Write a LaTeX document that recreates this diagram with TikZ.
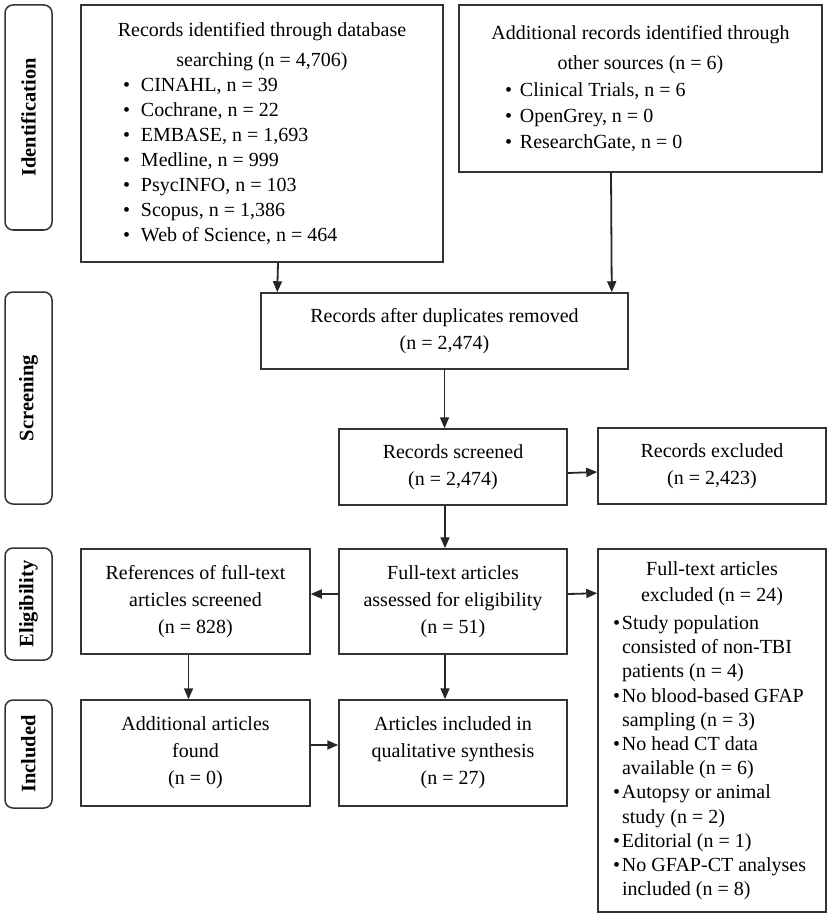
\documentclass[tikz,border=0pt]{standalone}
\usepackage{fontspec}
\setmainfont{Liberation Serif}
\usetikzlibrary{arrows.meta,calc,positioning}

\newlength{\bulw}
\newcommand{\itm}[1]{\par\hangindent=\bulw\hangafter=1\noindent\makebox[\bulw][l]{\textbullet}#1}

\begin{document}
\begin{tikzpicture}[
    x=1pt, y=-1pt,
    font=\fontsize{20}{27}\selectfont,
    box/.style={draw=black!80, line width=1.5pt, inner sep=0pt, align=center},
    listbox/.style={draw=black!80, line width=1.5pt, inner sep=0pt},
    stage/.style={draw=black!80, line width=1.5pt, rounded corners=8pt, inner sep=0pt, rotate=90,
      minimum height=47pt, font=\fontsize{20.5}{24}\selectfont\bfseries},
    arr/.style={-{Triangle[length=11pt,width=9pt]}, line width=1.8pt, draw=black!85, fill=black!85},
  ]
    \useasboundingbox (0,0) rectangle (827,917);

    % Stage labels
    \node[stage, minimum width=225pt] (ident) at (28.5,117.5) {Identification};
    \node[stage, minimum width=212pt] (screen) at (28.5,398) {Screening};
    \node[stage, minimum width=112pt] (elig) at (28.5,604) {Eligibility};
    \node[stage, minimum width=108pt] (inclst) at (28.5,754) {Included};

    % Identification
    \node[listbox, minimum width=362pt, minimum height=257pt] (dbrec) at (262,133.5) {%
      \begin{minipage}{362pt}\fontsize{20}{25}\selectfont\setlength{\bulw}{18pt}
      \centering Records identified through database\\[5pt]searching (n = 4,706)\par
      \raggedright\leftskip=42pt
      \itm{CINAHL, n = 39}
      \itm{Cochrane, n = 22}
      \itm{EMBASE, n = 1,693}
      \itm{Medline, n = 999}
      \itm{PsycINFO, n = 103}
      \itm{Scopus, n = 1,386}
      \itm{Web of Science, n = 464}
      \end{minipage}};
    \node[listbox, minimum width=363pt, minimum height=167pt] (other) at (640.5,88.5) {%
      \begin{minipage}{363pt}\fontsize{20}{26}\selectfont\setlength{\bulw}{15pt}
      \centering Additional records identified through\\[4pt]other sources (n = 6)\par
      \raggedright\leftskip=46pt
      \itm{Clinical Trials, n = 6}
      \itm{OpenGrey, n = 0}
      \itm{ResearchGate, n = 0}
      \end{minipage}};

    % Screening
    \node[box, minimum width=367pt, minimum height=76pt] (dedup) at (444.5,331) {Records after duplicates removed\\(n = 2,474)};
    \node[box, minimum width=228pt, minimum height=76pt] (screened) at (453,467) {Records screened\\(n = 2,474)};
    \node[box, minimum width=228pt, minimum height=76pt] (excl) at (712,466) {Records excluded\\(n = 2,423)};

    % Eligibility
    \node[box, minimum width=229pt, minimum height=105pt] (refs) at (195.5,601.5) {References of full-text\\articles screened\\(n = 828)};
    \node[box, minimum width=228pt, minimum height=105pt] (fulltext) at (453,601.5) {Full-text articles\\assessed for eligibility\\(n = 51)};
    \node[listbox, minimum width=228pt, minimum height=363pt] (ftexcl) at (712,730.5) {%
      \begin{minipage}{228pt}\fontsize{20}{24.2}\selectfont\setlength{\bulw}{9pt}
      \centering Full-text articles\\[2pt]excluded (n = 24)\par\vspace{4pt}
      \raggedright\leftskip=15pt
      \itm{Study population\newline consisted of non-TBI\newline patients (n = 4)}
      \itm{No blood-based GFAP\newline sampling (n = 3)}
      \itm{No head CT data\newline available (n = 6)}
      \itm{Autopsy or animal\newline study (n = 2)}
      \itm{Editorial (n = 1)}
      \itm{No GFAP-CT analyses\newline included (n = 8)}
      \end{minipage}};

    % Included
    \node[box, minimum width=229pt, minimum height=106pt] (addl) at (195.5,753) {Additional articles\\found\\(n = 0)};
    \node[box, minimum width=228pt, minimum height=106pt] (inclsyn) at (453,753) {Articles included in\\qualitative synthesis\\(n = 27)};

    % Arrows
    \draw[arr] ([xshift=16pt]dbrec.south) -- ([xshift=17pt]dedup.north west);
    \draw[arr] ([xshift=-29.5pt]other.south) -- ([xshift=-17pt]dedup.north east);
    \draw[arr] (dedup.south) -- ([xshift=-8.5pt]screened.north);
    \draw[arr] ([yshift=-6pt]screened.east) -- ([yshift=-6pt]excl.west);
    \draw[arr] ([xshift=-8pt]screened.south) -- ([xshift=-8pt]fulltext.north);
    \draw[arr] ([yshift=7.5pt]fulltext.west) -- ([yshift=7.5pt]refs.east);
    \draw[arr] ([yshift=7.5pt]fulltext.east) -- ([yshift=-45pt]ftexcl.north west);
    \draw[arr] ([xshift=-7pt]refs.south) -- ([xshift=-7pt]addl.north);
    \draw[arr] ([xshift=-8pt]fulltext.south) -- ([xshift=-8pt]inclsyn.north);
    \draw[arr] ([yshift=8pt]addl.east) -- ([yshift=8pt]inclsyn.west);
  \end{tikzpicture}
\end{document}
